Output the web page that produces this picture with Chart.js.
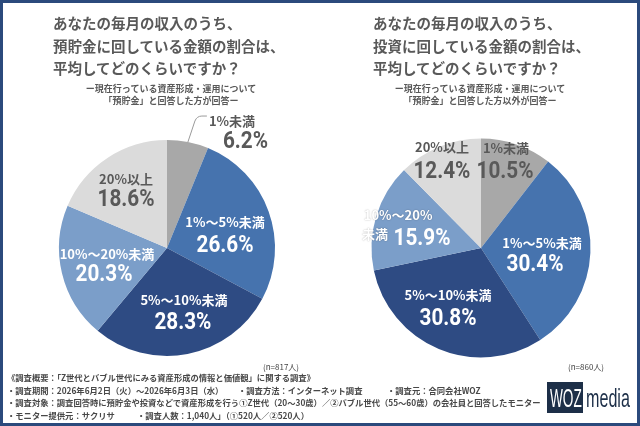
<!DOCTYPE html>
<html lang="ja">
<head>
<meta charset="utf-8">
<script src="https://cdn.jsdelivr.net/npm/chart.js@4.4.1/dist/chart.umd.min.js"></script>
<style>
  html, body { margin: 0; padding: 0; background: #fff; }
  #page { position: relative; width: 640px; height: 426px; overflow: hidden;
    font-family: "Noto Sans CJK JP", sans-serif; color: #595959; }
  #frame { position: absolute; left: 0; top: 0; width: 640px; height: 426px;
    box-sizing: border-box; border: 3px solid #2b4a7c; z-index: 5; }
  canvas { position: absolute; top: 0; }
  .title { position: absolute; top: 12px; font-size: 14.5px; font-weight: 700;
    line-height: 22.5px; white-space: nowrap; }
  .sub { position: absolute; top: 83px; width: 240px; text-align: center;
    font-size: 9px; font-weight: 700; line-height: 12px; white-space: nowrap; }
  .n { position: absolute; top: 361px; font-size: 8px; color: #444; }
  .foot { position: absolute; left: 7px; top: 371px; font-size: 8.3px; line-height: 12.5px;
    color: #484848; font-weight: 700; white-space: nowrap; }
  .foot span { position: absolute; }
  #logo-box { position: absolute; left: 547px; top: 382px; width: 36px; height: 31px;
    background: #1d2f48; }
  .logo-t { position: absolute; font-family: "Liberation Sans Narrow", "Liberation Sans", sans-serif;
    font-size: 26px; transform-origin: 0 0; white-space: nowrap; line-height: 1; }
</style>
</head>
<body>
<div id="page">
  <canvas id="leftPie" width="320" height="426" style="left:0"></canvas>
  <canvas id="rightPie" width="320" height="426" style="left:320px"></canvas>

  <div class="title" style="left:53px">あなたの毎月の収入のうち、<br>預貯金に回している金額の割合は、<br>平均してどのくらいですか？</div>
  <div class="sub" style="left:51px">ー現在行っている資産形成・運用について<br>「預貯金」と回答した方が回答ー</div>
  <div class="title" style="left:373px">あなたの毎月の収入のうち、<br>投資に回している金額の割合は、<br>平均してどのくらいですか？</div>
  <div class="sub" style="left:360px">ー現在行っている資産形成・運用について<br>「預貯金」と回答した方以外が回答ー</div>

  <div class="n" style="left:263px">(n=817人)</div>
  <div class="n" style="left:568px">(n=860人)</div>

  <div class="foot">
    <span style="left:0; top:0">《調査概要：「Z世代とバブル世代にみる資産形成の情報と価値観」に関する調査》</span>
    <span style="left:0; top:12.5px">・調査期間：2026年6月2日（火）〜2026年6月3日（水）</span>
    <span style="left:231px; top:12.5px">・調査方法：インターネット調査</span>
    <span style="left:380px; top:12.5px">・調査元：合同会社WOZ</span>
    <span style="left:0; top:25px">・調査対象：調査回答時に預貯金や投資などで資産形成を行う①Z世代（20〜30歳）／②バブル世代（55〜60歳）の会社員と回答したモニター</span>
    <span style="left:0; top:37.5px">・モニター提供元：サクリサ</span>
    <span style="left:130px; top:37.5px">・調査人数：1,040人」（①520人／②520人）</span>
  </div>

  <div id="logo-box"></div>
  <div class="logo-t" id="logoWoz" style="left:550px; top:384.5px; color:#fff">WOZ</div>
  <div class="logo-t" id="logoMedia" style="left:586px; top:384.5px; color:#1d2f48">media</div>

  <div id="frame"></div>
</div>

<script>
"use strict";

var leftCategories = ["1%未満", "1%〜5%未満", "5%〜10%未満", "10%〜20%未満", "20%以上"];
var leftValues = [6.2, 26.6, 28.3, 20.3, 18.6];

var rightCategories = ["1%未満", "1%〜5%未満", "5%〜10%未満", "10%〜20%未満", "20%以上"];
var rightValues = [10.5, 30.4, 30.8, 15.9, 12.4];

var sliceColors = ["#a8a8a8", "#4673ae", "#2e4b83", "#7b9ec9", "#dbdbdb"];
var textColors = ["#595959", "#ffffff", "#ffffff", "#ffffff", "#595959"];

// label placement: offsets of the category line and the percent line
// from a point at 0.6 of the radius on each slice's middle angle
var leftPlaces = [
  { mode: "leader" },
  { cat: [-3, -6], pct: [-3, 18.5] },
  { cat: [4.6, -13.6], pct: [3.6, 9.4] },
  { cat: [3, -11], pct: [0, 10] },
  { cat: [-5.2, -17], pct: [-5.2, 4] }
];
var rightPlaces = [
  { cat: [3.7, -39.8], pct: [2.7, -15.8] },
  { cat: [-4.6, -9.9], pct: [-11.6, 12.1] },
  { cat: [-7.6, -15.6], pct: [-7.6, 8.4] },
  { mode: "split", cat: [-20, -16], cat2: [-43, 3], pct: [4, 8] },
  { cat: [-14.1, -42.2], pct: [-14.1, -17.2] }
];

var catFont = "700 13px 'Noto Sans CJK JP', sans-serif";
var pctFont = "700 23px Roboto, sans-serif";
var yNudge = 2;

function drawPct(ctx, text, x, y, align) {
  ctx.save();
  ctx.translate(x, y);
  ctx.scale(0.9, 1);
  ctx.font = pctFont;
  ctx.textAlign = align;
  ctx.fillText(text, 0, 0);
  ctx.restore();
}

var sliceLabels = {
  id: "sliceLabels",
  afterDatasetsDraw: function(chart, args, opts) {
    var ctx = chart.ctx;
    var meta = chart.getDatasetMeta(0);
    var values = chart.data.datasets[0].data;
    var labels = chart.data.labels;
    ctx.save();
    ctx.textBaseline = "middle";
    meta.data.forEach(function(arc, i) {
      var p = arc.getProps(["x", "y", "startAngle", "endAngle", "outerRadius"], true);
      var mid = (p.startAngle + p.endAngle) / 2;
      var place = opts.places[i];
      var pctText = values[i].toFixed(1) + "%";
      ctx.fillStyle = textColors[i];

      if (place.mode === "leader") {
        var ex = p.x + Math.cos(mid) * p.outerRadius;
        var ey = p.y + Math.sin(mid) * p.outerRadius;
        ctx.strokeStyle = "#9a9a9a";
        ctx.lineWidth = 1;
        ctx.beginPath();
        ctx.moveTo(ex, ey);
        ctx.lineTo(ex + 7, ey - 21);
        ctx.quadraticCurveTo(ex + 9, ey - 26, ex + 14, ey - 26);
        ctx.lineTo(ex + 19, ey - 26);
        ctx.stroke();
        ctx.textAlign = "left";
        ctx.font = catFont;
        ctx.fillText(labels[i], ex + 21, ey - 23 + yNudge);
        drawPct(ctx, pctText, ex + 35, ey - 2 + yNudge, "left");
        return;
      }

      var ax = p.x + Math.cos(mid) * p.outerRadius * 0.6;
      var ay = p.y + Math.sin(mid) * p.outerRadius * 0.6 + yNudge;
      ctx.textAlign = "center";
      ctx.font = catFont;
      if (place.mode === "split") {
        var name = labels[i];
        ctx.save();
        ctx.shadowColor = "rgba(0,0,0,0.35)";
        ctx.shadowBlur = 1.5;
        ctx.fillText(name.slice(0, -2), ax + place.cat[0], ay + place.cat[1]);
        ctx.fillText(name.slice(-2), ax + place.cat2[0], ay + place.cat2[1]);
        ctx.restore();
      } else {
        ctx.fillText(labels[i], ax + place.cat[0], ay + place.cat[1]);
      }
      drawPct(ctx, pctText, ax + place.pct[0], ay + place.pct[1], "center");
    });
    ctx.restore();
  }
};

function renderPie(canvasId, categories, values, padding, places) {
  var elem = document.getElementById(canvasId).getContext("2d");
  new Chart(elem, {
    type: "pie",
    data: {
      labels: categories,
      datasets: [
        {
          data: values,
          backgroundColor: sliceColors,
          borderWidth: 0
        }
      ]
    },
    options: {
      responsive: false,
      animation: false,
      events: [],
      layout: { padding: padding },
      plugins: {
        legend: { display: false },
        tooltip: { enabled: false },
        sliceLabels: { places: places }
      }
    },
    plugins: [sliceLabels]
  });
}

function fitWidth(id, width) {
  var el = document.getElementById(id);
  el.style.transform = "scale(" + (width / el.offsetWidth) + ",1)";
}

renderPie("leftPie", leftCategories, leftValues,
  { left: 59, right: 45, top: 140, bottom: 70 }, leftPlaces);
renderPie("rightPie", rightCategories, rightValues,
  { left: 51.5, right: 49.5, top: 138.5, bottom: 68.5 }, rightPlaces);
fitWidth("logoWoz", 32);
fitWidth("logoMedia", 44);
</script>
</body>
</html>
